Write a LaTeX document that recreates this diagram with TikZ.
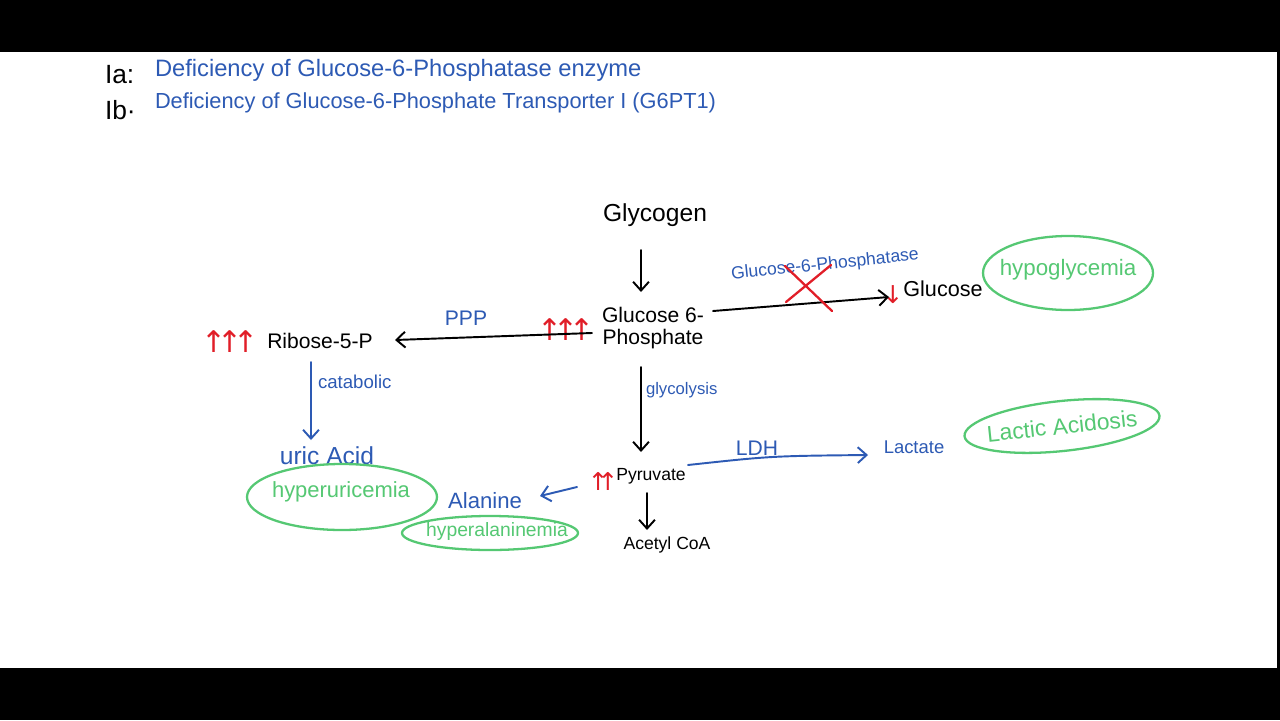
\documentclass[tikz,border=0pt]{standalone}
\usepackage{fontspec}
\setmainfont{Liberation Sans}
\newfontfamily\arrfont{DejaVu Sans}
\usetikzlibrary{arrows.meta,calc}
\definecolor{hblue}{RGB}{45,90,180}
\definecolor{hgreen}{RGB}{85,200,115}
\definecolor{hred}{RGB}{225,30,40}
\begin{document}
\begin{tikzpicture}[x=0.02cm,y=-0.02cm,
  lbl/.style={inner sep=0pt,outer sep=0pt},
  arr/.style={-{Straight Barb[length=5pt,width=9pt]},line width=1.1pt,line cap=round,line join=round},
  ring/.style={draw=hgreen,line width=1.3pt},
  redup/.style={lbl,text=hred,font=\arrfont\fontsize{17}{17}\selectfont}]
\fill[black] (0,0) rectangle (1280,720);
\fill[white] (0,52) rectangle (1277,668);
\useasboundingbox (0,0) rectangle (1280,720);

% header
\node[lbl,anchor=west,font=\fontsize{15}{15}\selectfont] (ia) at (105,75) {Ia:};
\node[lbl,anchor=west,text=hblue,font=\fontsize{13.5}{14}\selectfont] (t1) at (155,70) {Deficiency of Glucose-6-Phosphatase enzyme};
\node[lbl,anchor=west,font=\fontsize{15}{15}\selectfont] (ib) at (105,110) {Ib·};
\node[lbl,anchor=west,text=hblue,font=\fontsize{12.4}{13}\selectfont] (t2) at (155,103) {Deficiency of Glucose-6-Phosphate Transporter I (G6PT1)};

% main nodes
\node[lbl,font=\fontsize{14}{14}\selectfont] (glyc) at (655,215) {Glycogen};
\node[lbl,align=center,font=\fontsize{12}{12.5}\selectfont] (g6p) at (653,328) {Glucose 6-\\Phosphate};
\node[redup] (up1) at (566,330) {↑\kern-.3em↑\kern-.3em↑};
\node[lbl,text=hblue,rotate=6,font=\fontsize{10}{10}\selectfont] (enz) at (825,265) {Glucose-6-Phosphatase};
\node[lbl,text=hred,font=\arrfont\fontsize{14}{14}\selectfont] (gdown) at (893,295) {↓};
\node[lbl,font=\fontsize{12.3}{12.3}\selectfont] (glc) at (943,289) {Glucose};
\node[lbl,text=hgreen,font=\fontsize{12.7}{12.7}\selectfont] (hypo) at (1068,270) {hypoglycemia};

\node[lbl,font=\fontsize{12}{12}\selectfont] (ribose) at (320,341) {Ribose-5-P};
\node[redup] (up2) at (230,342) {↑\kern-.3em↑\kern-.3em↑};
\node[lbl,text=hblue,font=\fontsize{12}{12}\selectfont] (ppp) at (466,318) {PPP};
\node[lbl,anchor=west,text=hblue,font=\fontsize{10.6}{10.6}\selectfont] (catab) at (318,382) {catabolic};
\node[lbl,text=hblue,font=\fontsize{14}{14}\selectfont] (uric) at (327,456) {uric Acid};
\node[lbl,text=hgreen,font=\fontsize{12.5}{12.5}\selectfont] (hyperu) at (341,492) {hyperuricemia};

\node[lbl,anchor=west,text=hblue,font=\fontsize{9.5}{9.5}\selectfont] (glyco) at (646,390) {glycolysis};
\node[lbl,font=\fontsize{10}{10}\selectfont] (pyr) at (651,476) {Pyruvate};
\node[lbl,text=hred,font=\arrfont\fontsize{14}{14}\selectfont] (up3) at (603,481) {↑\kern-.45em↑};
\node[lbl,text=hblue,font=\fontsize{12}{12}\selectfont] (ldh) at (757,448) {LDH};
\node[lbl,text=hblue,font=\fontsize{10.5}{10.5}\selectfont] (lact) at (914,447) {Lactate};
\node[lbl,text=hgreen,rotate=6,font=\fontsize{13}{13}\selectfont] (lacid) at (1062,426) {Lactic Acidosis};
\node[lbl,text=hblue,font=\fontsize{12.6}{12.6}\selectfont] (ala) at (485,501) {Alanine};
\node[lbl,text=hgreen,font=\fontsize{11}{11}\selectfont] (hala) at (497,531) {hyperalaninemia};
\node[lbl,font=\fontsize{10}{10}\selectfont] (acoa) at (667,545) {Acetyl CoA};

% connectors
\draw[arr] ($(glyc)+(-14,35)$) -- ($(g6p)+(-12,-36)$);
\draw[arr] ($(g6p)+(60,-17)$) -- ($(gdown)+(-4,2)$);
\draw[arr] ($(g6p)+(-61,5)$) -- ($(ribose)+(75,-1)$);
\draw[arr,hblue] ($(ribose)+(-9,21)$) -- ($(uric)+(-16,-16)$);
\draw[arr] ($(g6p)+(-12,39)$) -- ($(pyr)+(-10,-24)$);
\draw[arr,hblue] ($(pyr)+(37,-11)$) .. controls ($(pyr)+(120,-20)$) .. ($(lact)+(-46,8)$);
\draw[arr,hblue] ($(pyr)+(-74,11)$) -- ($(ala)+(55,-5)$);
\draw[arr] ($(pyr)+(-4,17)$) -- ($(acoa)+(-20,-15)$);

% red cross over the enzyme
\draw[hred,line width=1.3pt,line cap=round] ($(enz)+(-40,1)$) -- ($(enz)+(7,46)$);
\draw[hred,line width=1.3pt,line cap=round] ($(enz)+(6,0)$) -- ($(enz)+(-39,37)$);

% green rings
\draw[ring] ($(hypo)+(0,3)$) ellipse [x radius=85,y radius=37];
\draw[ring] ($(hyperu)+(1,5)$) ellipse [x radius=95,y radius=33];
\draw[ring] ($(hala)+(-7,2)$) ellipse [x radius=88,y radius=17];
\draw[ring,rotate around={6:(lacid.center)}] (lacid.center) ellipse [x radius=98,y radius=25];
\end{tikzpicture}
\end{document}
